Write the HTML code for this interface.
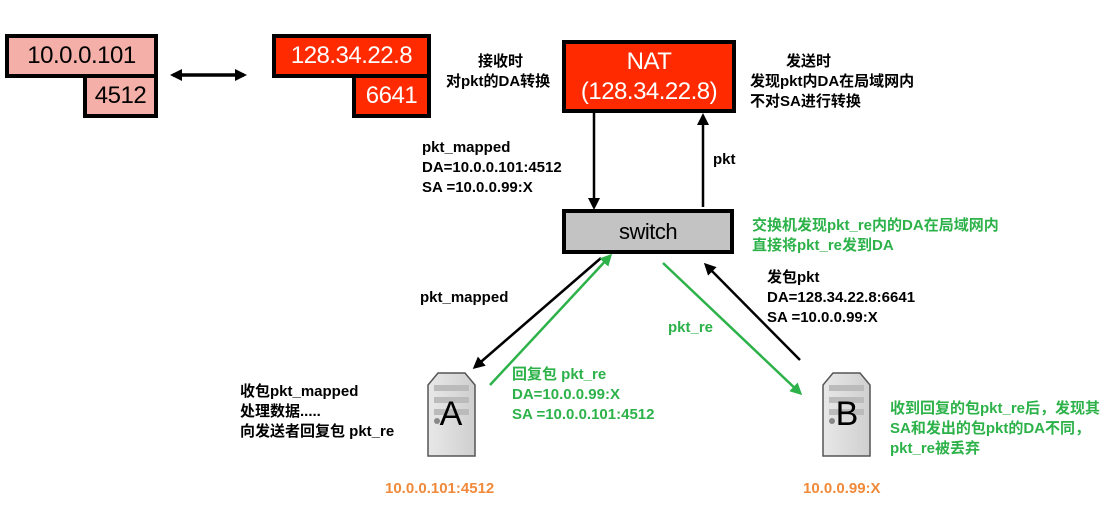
<!DOCTYPE html>
<html><head><meta charset="utf-8"><style>
body{margin:0;width:1118px;height:509px;background:#fff;position:relative;overflow:hidden;font-family:"Liberation Sans","Noto Sans CJK SC",sans-serif}
.b{position:absolute;box-sizing:border-box;border:4px solid #000;display:flex;align-items:center;justify-content:center;font-size:24px;font-family:"Liberation Sans",sans-serif;letter-spacing:-0.5px}
.t{position:absolute;font-size:15px;font-weight:bold;line-height:20px;white-space:nowrap}
.g{color:#2db24a}.o{color:#f08a3a;font-size:15px}
</style></head><body>
<div class="b" style="left:5px;top:34px;width:153px;height:44px;background:#f4b0a8">10.0.0.101</div>
<div class="b" style="left:83px;top:74px;width:75px;height:44px;background:#f4b0a8">4512</div>
<div class="b" style="left:272px;top:34px;width:159px;height:44px;background:#ff2a00;color:#fff">128.34.22.8</div>
<div class="b" style="left:352px;top:74px;width:79px;height:44px;background:#ff2a00;color:#fff">6641</div>
<div class="b" style="left:562px;top:40px;width:174px;height:73px;background:#ff2a00;color:#fff;flex-direction:column;line-height:30px;font-size:24px"><div>NAT</div><div>(128.34.22.8)</div></div>
<div class="b" style="left:562px;top:209px;width:172px;height:45px;background:#c3c3c3;font-size:22px">switch</div>
<svg style="position:absolute;left:0;top:0" width="1118" height="509">
<defs>
<marker id="ak" markerWidth="12" markerHeight="12" refX="9" refY="6" orient="auto-start-reverse" markerUnits="userSpaceOnUse"><path d="M0,0 L12,6 L0,12 Z" fill="#000"/></marker>
<marker id="ag" markerWidth="12" markerHeight="12" refX="9" refY="6" orient="auto" markerUnits="userSpaceOnUse"><path d="M0,0 L12,6 L0,12 Z" fill="#2db24a"/></marker>
<linearGradient id="sv" x1="0" x2="1"><stop offset="0" stop-color="#e8e8e8"/><stop offset="1" stop-color="#cfcfcf"/></linearGradient>
</defs>
<line x1="173" y1="75" x2="244" y2="75" stroke="#000" stroke-width="3.5" marker-start="url(#ak)" marker-end="url(#ak)"/>
<line x1="594" y1="113" x2="594" y2="207" stroke="#000" stroke-width="2.5" marker-end="url(#ak)"/>
<line x1="703" y1="207" x2="703" y2="116" stroke="#000" stroke-width="2.5" marker-end="url(#ak)"/>
<line x1="601" y1="258" x2="475" y2="367" stroke="#000" stroke-width="2.5" marker-end="url(#ak)"/>
<line x1="490" y1="385" x2="610" y2="256" stroke="#2db24a" stroke-width="2.5" marker-end="url(#ag)"/>
<line x1="663" y1="263" x2="800" y2="393" stroke="#2db24a" stroke-width="2.5" marker-end="url(#ag)"/>
<line x1="800" y1="360" x2="706" y2="265" stroke="#000" stroke-width="2.5" marker-end="url(#ak)"/>
<g id="srv">
<path d="M428,456 L428,385 L438,373 L465,373 L475,385 L475,456 Z" fill="url(#sv)" stroke="#555" stroke-width="1.5"/>
<rect x="434" y="385" width="35" height="6" fill="#bbb"/><rect x="434" y="397" width="35" height="6" fill="#bbb"/><rect x="434" y="409" width="35" height="6" fill="#bbb"/>
<circle cx="437" cy="421" r="3" fill="#888"/>
</g>
<use href="#srv" x="395" y="0"/>
<text x="451" y="425" font-size="34" text-anchor="middle" font-family="Liberation Sans">A</text>
<text x="847" y="425" font-size="34" text-anchor="middle" font-family="Liberation Sans">B</text>
</svg>
<div class="t" style="left:478px;top:52px">接收时</div>
<div class="t" style="left:446px;top:72px">对pkt的DA转换</div>
<div class="t" style="left:786px;top:52px">发送时</div>
<div class="t" style="left:750px;top:72px">发现pkt内DA在局域网内<br>不对SA进行转换</div>
<div class="t" style="left:422px;top:138px">pkt_mapped<br>DA=10.0.0.101:4512<br>SA =10.0.0.99:X</div>
<div class="t" style="left:713px;top:150px">pkt</div>
<div class="t g" style="left:752px;top:216px">交换机发现pkt_re内的DA在局域网内<br>直接将pkt_re发到DA</div>
<div class="t" style="left:420px;top:288px">pkt_mapped</div>
<div class="t g" style="left:668px;top:318px">pkt_re</div>
<div class="t" style="left:767px;top:268px">发包pkt<br>DA=128.34.22.8:6641<br>SA =10.0.0.99:X</div>
<div class="t" style="left:240px;top:382px">收包pkt_mapped<br>处理数据.....<br>向发送者回复包 pkt_re</div>
<div class="t g" style="left:512px;top:365px">回复包 pkt_re<br>DA=10.0.0.99:X<br>SA =10.0.0.101:4512</div>
<div class="t g" style="left:890px;top:399px">收到回复的包pkt_re后，发现其<br>SA和发出的包pkt的DA不同，<br>pkt_re被丢弃</div>
<div class="t o" style="left:385px;top:479px">10.0.0.101:4512</div>
<div class="t o" style="left:803px;top:479px">10.0.0.99:X</div>
</body></html>
